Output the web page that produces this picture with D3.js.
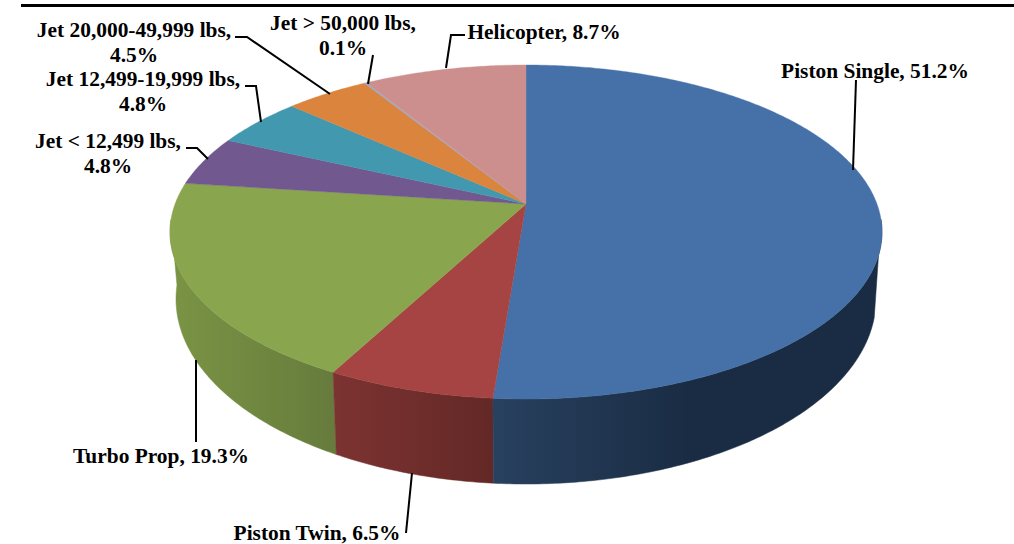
<!DOCTYPE html>
<html><head><meta charset="utf-8">
<script src="https://cdnjs.cloudflare.com/ajax/libs/d3/7.8.5/d3.min.js"></script>
<style>html,body{margin:0;padding:0;background:#fff}svg{display:block}
text{font-family:"Liberation Serif",serif;font-weight:bold;font-size:21.4px;fill:#000;text-anchor:middle}</style>
</head><body><svg id="c" width="1014" height="544"></svg>
<script>
const categories=["Piston Single","Piston Twin","Turbo Prop","Jet < 12,499 lbs","Jet 12,499-19,999 lbs","Jet 20,000-49,999 lbs","Jet > 50,000 lbs","Helicopter"];
const shares=[51.2,6.5,19.3,4.8,4.8,4.5,0.1,8.7];
const topColors=["#4571a8","#a54442","#89a54e","#71588f","#4198af","#db843d","#93a9cf","#cc8f8e"];
const wallLeft=["#28415f","#7c3331","#7a9444"];
const wallRight=["#1a2c44","#632826","#667b3c"];
const labelLines=[["Piston Single, 51.2%"],["Piston Twin, 6.5%"],["Turbo Prop, 19.3%"],["Jet < 12,499 lbs,","4.8%"],["Jet 12,499-19,999 lbs,","4.8%"],["Jet 20,000-49,999 lbs,","4.5%"],["Jet > 50,000 lbs,","0.1%"],["Helicopter, 8.7%"]];
// layout of the labels and leaders
const labelAt=[[875,78],[317,540],[161,463],[108,148],[143,86],[134,37],[343,30],[544,39]];
const leaders=[[[856,80],[853,170]],[[412,473],[406,533]],[[196,360],[196,442]],[[186,148],[197,148],[208,159]],[[245,86],[256,86],[261,122]],[[235,37],[247,37],[330,94]],[[373,55],[368,84]],[[465,35],[451,35],[446,68]]];

const svg=d3.select("#c");
const k=0.1677;
// perspective disc: angle (clockwise from 12 o'clock) to screen point
function disc(cx,cy,rx,near){
  const b=rx*Math.sqrt(1-k*k),a=near*(1-k);
  return t=>{const u=Math.sin(t),v=-Math.cos(t),d=1-k*v;return [cx+b*u/d,cy+a*v/d];};
}
const topDisc=disc(526,204,356,195);
const botDisc=disc(526,268,350,216);
const apex=[526,204];
const arcs=d3.pie().sort(null).value(d=>d)(shares);
const pts=(f,a,b)=>{const n=Math.max(2,Math.ceil(Math.abs(b-a)/0.01));return d3.range(n+1).map(i=>f(a+(b-a)*i/n));};
const line=d3.line().curve(d3.curveLinear);

const defs=svg.append("defs");
// walls, front half only; the bottom rim starts later so the right edge runs straight
const topLo=Math.PI*0.53, botLo=Math.PI*0.585, visHi=Math.PI*1.47;
[2,1,0].forEach(i=>{
  const a=arcs[i];
  const s=Math.max(a.startAngle,topLo),sb=Math.max(a.startAngle,botLo),e=Math.min(a.endAngle,visHi);
  const tp=pts(topDisc,s,e),bp=pts(botDisc,e,sb);
  const xa=d3.scaleLinear().domain([0,1]).range(d3.extent(tp.concat(bp),p=>p[0]));
  const g=defs.append("linearGradient").attr("id","w"+i).attr("gradientUnits","userSpaceOnUse")
    .attr("x1",xa(0)).attr("x2",xa(i==0?0.5:1)).attr("y1",0).attr("y2",0);
  g.append("stop").attr("offset",0).attr("stop-color",wallLeft[i]);
  g.append("stop").attr("offset",1).attr("stop-color",wallRight[i]);
  svg.append("path").attr("d",line(tp.concat(bp))+"Z").attr("fill",`url(#w${i})`).attr("stroke",`url(#w${i})`).attr("stroke-width",0.5);
});
// top face
svg.selectAll("path.s").data(arcs).join("path").attr("class","s")
  .attr("d",a=>line([apex].concat(pts(topDisc,a.startAngle,a.endAngle)))+"Z")
  .attr("fill",(a,i)=>topColors[i]).attr("stroke",(a,i)=>topColors[i]).attr("stroke-width",0.4);
// rule
svg.append("rect").attr("x",21).attr("y",4).attr("width",993).attr("height",3).attr("fill","#000");
// leaders
svg.selectAll("path.l").data(leaders).join("path").attr("class","l").attr("d",d=>line(d)).attr("fill","none").attr("stroke","#000").attr("stroke-width",2);
// labels
svg.selectAll("text.t").data(categories).join("text").attr("class","t")
  .attr("transform",(c,i)=>`translate(${labelAt[i][0]},${labelAt[i][1]})`)
  .each(function(c,i){const t=d3.select(this);labelLines[i].forEach((s,j)=>t.append("tspan").attr("x",0).attr("y",j*24.5).text(s));});
</script></body></html>
